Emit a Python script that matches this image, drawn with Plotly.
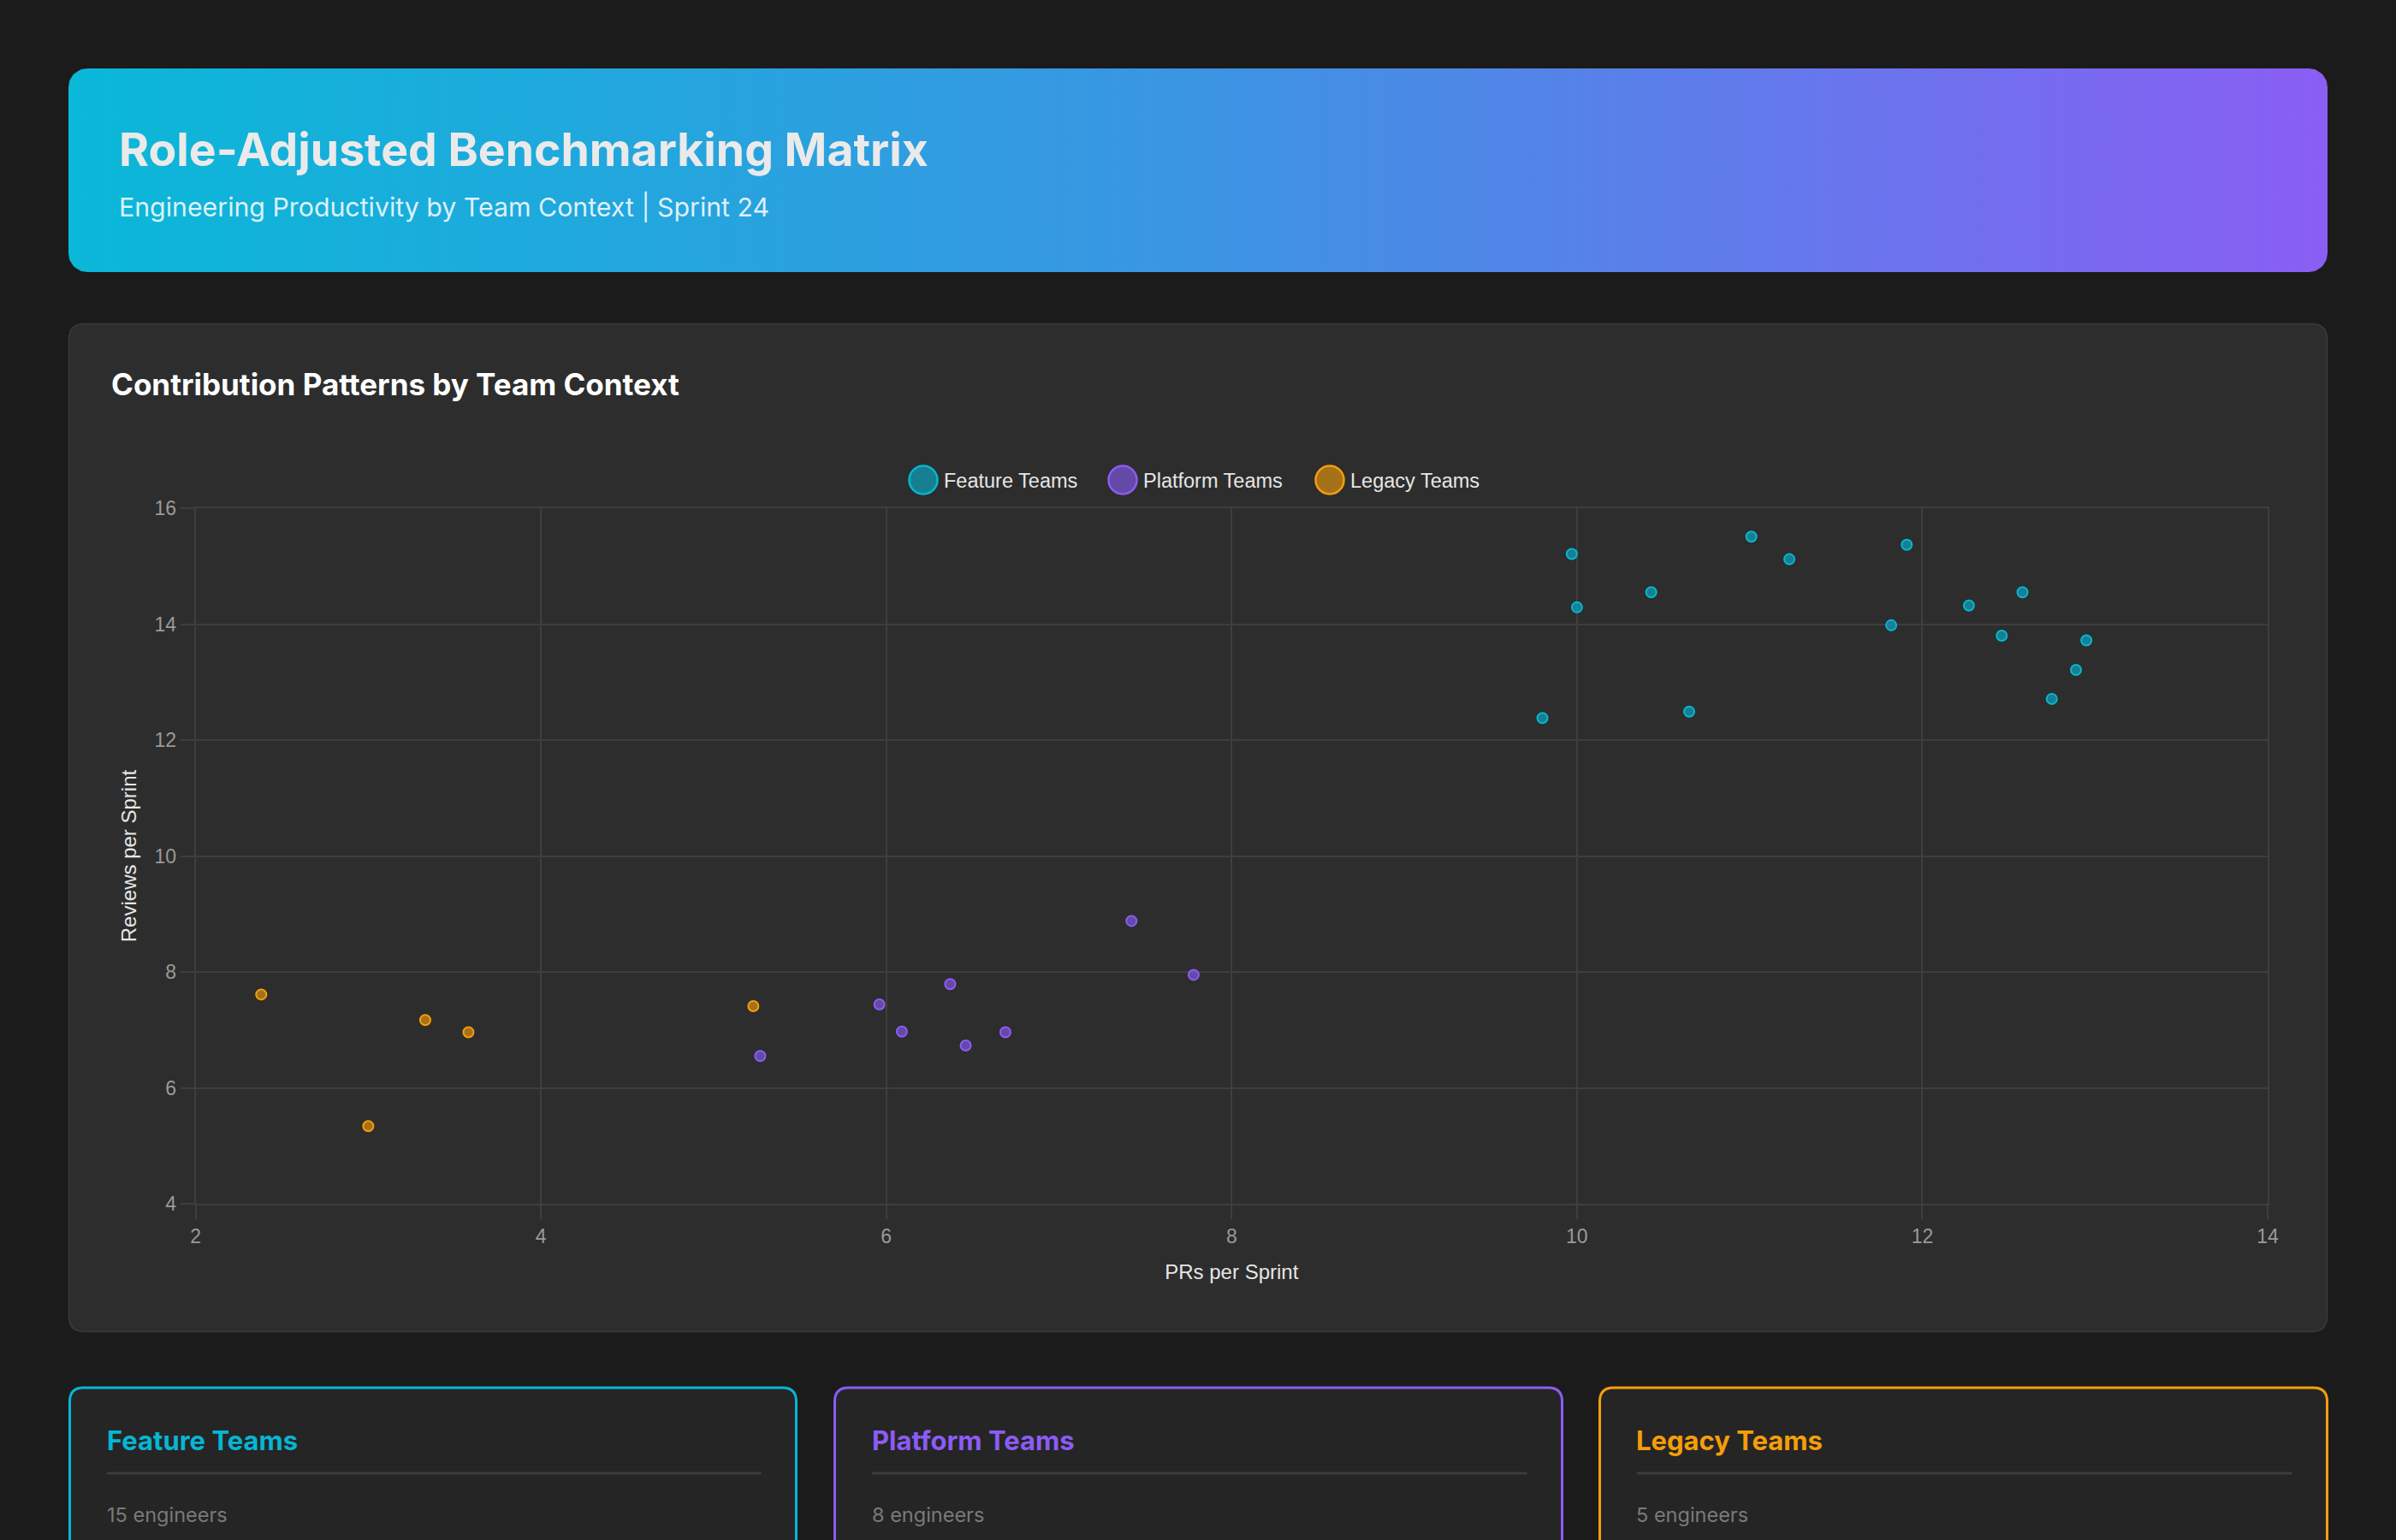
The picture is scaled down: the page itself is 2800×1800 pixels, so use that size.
import numpy as np
import plotly.graph_objects as go

W, H = 2800, 1800

# ---------------- data ----------------
team_names = ["Feature Teams", "Platform Teams", "Legacy Teams"]
team_colors = ["#06b6d4", "#8b5cf6", "#f59e0b"]
team_fills = ["rgba(6,182,212,0.6)", "rgba(139,92,246,0.6)", "rgba(245,158,11,0.6)"]
engineer_counts = [15, 8, 5]

feature_prs = [9.97, 10.0, 9.80, 10.43, 10.65, 11.01, 11.23, 11.82, 11.91, 12.27, 12.46, 12.58, 12.75, 12.89, 12.95]
feature_reviews = [15.21, 14.29, 12.38, 14.55, 12.49, 15.51, 15.12, 13.98, 15.37, 14.32, 13.80, 14.55, 12.71, 13.21, 13.72]
platform_prs = [7.42, 7.78, 6.37, 5.96, 6.09, 6.46, 6.69, 5.27]
platform_reviews = [8.88, 7.95, 7.79, 7.44, 6.97, 6.73, 6.96, 6.55]
legacy_prs = [2.38, 3.33, 3.58, 3.00, 5.23]
legacy_reviews = [7.61, 7.17, 6.96, 5.34, 7.41]

x_ticks = [2, 4, 6, 8, 10, 12, 14]
y_ticks = [4, 6, 8, 10, 12, 14, 16]

title_text = "Role-Adjusted Benchmarking Matrix"
subtitle_text = "Engineering Productivity by Team Context | Sprint 24"
card_title = "Contribution Patterns by Team Context"
x_title = "PRs per Sprint"
y_title = "Reviews per Sprint"

# ---------------- layout helpers ----------------
PLOT_L, PLOT_R, PLOT_T, PLOT_B = 228.6, 2650, 594, 1407
GRID = "#3e3e3e"
HEAD_FONT = "Inter"
CHART_FONT = "Liberation Sans"


def PX(x):
    return x / W


def PY(y):
    return 1 - y / H


def rounded_path(x0, y0, x1, y1, r):
    pts = lambda x, y: f"{PX(x):.6f},{PY(y):.6f}"
    return (f"M {pts(x0+r, y0)} L {pts(x1-r, y0)} Q {pts(x1, y0)} {pts(x1, y0+r)} "
            f"L {pts(x1, y1-r)} Q {pts(x1, y1)} {pts(x1-r, y1)} L {pts(x0+r, y1)} "
            f"Q {pts(x0, y1)} {pts(x0, y1-r)} L {pts(x0, y0+r)} Q {pts(x0, y0)} {pts(x0+r, y0)} Z")


def rounded_poly(x0, y0, x1, y1, r, n=16):
    xs, ys = [], []
    corners = [(x1 - r, y0 + r, -np.pi / 2, 0), (x1 - r, y1 - r, 0, np.pi / 2),
               (x0 + r, y1 - r, np.pi / 2, np.pi), (x0 + r, y0 + r, np.pi, 1.5 * np.pi)]
    for cx, cy, a0, a1 in corners:
        t = np.linspace(a0, a1, n)
        xs.extend(cx + r * np.cos(t))
        ys.extend(cy + r * np.sin(t))
    xs.append(xs[0]); ys.append(ys[0])
    return xs, ys


fig = go.Figure()

# header gradient box (decoration on a pixel-space overlay axis)
hx, hy = rounded_poly(80, 80, 2720, 318, 22)
fig.add_trace(go.Scatter(
    x=hx, y=hy, mode="lines", fill="toself", line=dict(width=0),
    fillgradient=dict(type="horizontal", colorscale=[[0, "#0ab8d8"], [0.5, "#3b95e3"], [1, "#8a5ef4"]]),
    xaxis="x2", yaxis="y2", hoverinfo="skip", showlegend=False))

# data traces
series = [(feature_prs, feature_reviews), (platform_prs, platform_reviews), (legacy_prs, legacy_reviews)]
for (xs, ys), name, col, fill in zip(series, team_names, team_colors, team_fills):
    fig.add_trace(go.Scatter(
        x=xs, y=ys, mode="markers", name=name,
        marker=dict(size=12, color=fill, line=dict(color=col, width=2)),
        showlegend=False,
        hovertemplate=name + "<br>PRs: %{x}<br>Reviews: %{y}<extra></extra>"))

shapes = []
# chart card
shapes.append(dict(type="path", path=rounded_path(80.5, 378.5, 2719.5, 1556.5, 18), xref="paper", yref="paper",
                   fillcolor="#2d2d2d", line=dict(color="#3a3a3a", width=1.5), layer="below"))
# bottom cards
card_x = [(81.5, 930.5), (975.5, 1825.5), (1869.5, 2719.5)]
for (cx0, cx1), col in zip(card_x, team_colors):
    shapes.append(dict(type="path", path=rounded_path(cx0, 1622, cx1, 1880, 16), xref="paper", yref="paper",
                       fillcolor="#252525", line=dict(color=col, width=3), layer="below"))
    shapes.append(dict(type="rect", x0=PX(cx0 + 43.5), x1=PX(cx1 - 41), y0=PY(1720.5), y1=PY(1723.5),
                       xref="paper", yref="paper",
                       fillcolor="#3d3d3d", line=dict(width=0), layer="below"))


def ann(text, x, y, size, color, family, xanchor="left"):
    return dict(text=text, x=PX(x), y=PY(y), xref="paper", yref="paper", xanchor=xanchor, yanchor="middle",
                showarrow=False, font=dict(family=family, size=size, color=color))


annotations = [
    ann(f"<b>{title_text}</b>", 137, 175, 53.5, "#eaeaea", HEAD_FONT),
    ann(subtitle_text, 137, 241, 30.3, "rgba(255,255,255,0.85)", HEAD_FONT),
    ann(f"<b>{card_title}</b>", 128, 449, 35, "#ffffff", HEAD_FONT),
]

# legend (manual, large circular swatches)
legend_cx = [1079, 1312, 1554]
for cx, name, col, fill in zip(legend_cx, team_names, team_colors, team_fills):
    shapes.append(dict(type="circle", x0=PX(cx - 16.5), x1=PX(cx + 16.5), y0=PY(561 + 16.5), y1=PY(561 - 16.5),
                       xref="paper", yref="paper", fillcolor=fill, line=dict(color=col, width=2.5)))
    annotations.append(ann(name, cx + 22, 562, 23.5, "#e6e6e6", CHART_FONT))

# team summary cards
for (cx0, cx1), name, col, n in zip(card_x, team_names, team_colors, engineer_counts):
    annotations.append(ann(f"<b>{name}</b>", cx0 + 41, 1683, 31, col, HEAD_FONT))
    annotations.append(ann(f"{n} engineers", cx0 + 41, 1770, 23.5, "#7a7a7a", HEAD_FONT))

axis_common = dict(showgrid=True, gridcolor=GRID, gridwidth=2, zeroline=False,
                   showline=True, linecolor=GRID, linewidth=2, mirror=True,
                   ticks="outside", ticklen=16, tickwidth=2, tickcolor=GRID,
                   tickfont=dict(family=CHART_FONT, size=23, color="#9a9a9a"),
                   title_font=dict(family=CHART_FONT, size=24, color="#e6e6e6"),
                   automargin=False, fixedrange=True)

fig.update_layout(
    width=W, height=H,
    margin=dict(l=0, r=0, t=0, b=0, pad=0, autoexpand=False),
    paper_bgcolor="#1b1b1b",
    plot_bgcolor="rgba(0,0,0,0)",
    showlegend=False,
    xaxis=dict(domain=[PLOT_L / W, PLOT_R / W], range=[2, 14], tickvals=x_ticks,
               title=dict(text=x_title, standoff=22), **axis_common),
    yaxis=dict(domain=[1 - PLOT_B / H, 1 - PLOT_T / H], range=[4, 16], tickvals=y_ticks,
               title=dict(text=y_title, standoff=14), **axis_common),
    xaxis2=dict(domain=[0, 1], range=[0, W], visible=False, anchor="y2", fixedrange=True, automargin=False),
    yaxis2=dict(domain=[0, 1], range=[H, 0], visible=False, anchor="x2", fixedrange=True, automargin=False),
    shapes=shapes,
    annotations=annotations,
)

fig.write_html("out.html")
